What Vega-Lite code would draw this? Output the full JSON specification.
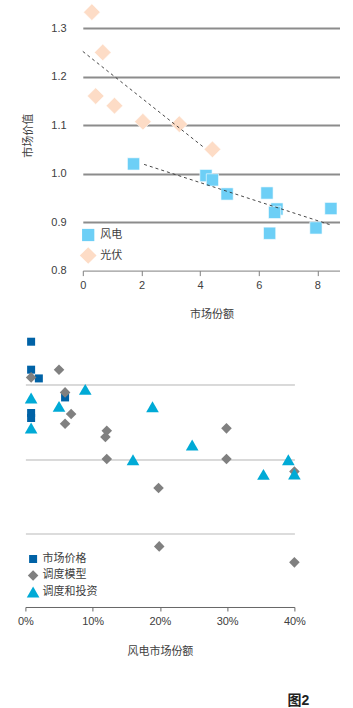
{
  "$schema": "https://vega.github.io/schema/vega-lite/v6.json",
  "padding": {"left": 17.4, "top": 0, "right": 0, "bottom": 0},
  "background": "white",
  "config": {
    "view": {"stroke": null},
    "font": "Liberation Sans, Noto Sans CJK SC",
    "axis": {
      "labelFont": "Liberation Sans, Noto Sans CJK SC",
      "titleFont": "Liberation Sans, Noto Sans CJK SC",
      "labelFontSize": 11,
      "titleFontSize": 11,
      "titleFontWeight": "normal",
      "labelColor": "#404040",
      "titleColor": "#404040"
    },
    "legend": {
      "labelFont": "Liberation Sans, Noto Sans CJK SC",
      "labelFontSize": 11,
      "labelColor": "#404040",
      "padding": 0
    }
  },
  "title": {
    "text": "图2",
    "orient": "bottom",
    "anchor": "end",
    "fontSize": 14,
    "fontWeight": "bold",
    "color": "#222222",
    "font": "Liberation Sans, Noto Sans CJK SC",
    "offset": 37.5,
    "dx": -31
  },
  "spacing": 9.5,
  "resolve": {
    "scale": {"color": "independent", "shape": "independent", "size": "independent"},
    "legend": {"color": "independent", "shape": "independent", "size": "independent"}
  },
  "vconcat": [
    {
      "spacing": -3.6,
      "hconcat": [
        {
          "width": 1,
          "height": 1,
          "data": {"values": []},
          "mark": "point"
        },
        {
          "width": 257.5,
          "height": 270.6,
          "layer": [
            {
              "data": {
                "values": [
                  {"series": "风电", "share": 1.73, "value": 1.020},
                  {"series": "风电", "share": 4.20, "value": 0.996},
                  {"series": "风电", "share": 4.42, "value": 0.987},
                  {"series": "风电", "share": 4.92, "value": 0.958},
                  {"series": "风电", "share": 6.28, "value": 0.960},
                  {"series": "风电", "share": 6.62, "value": 0.927},
                  {"series": "风电", "share": 6.54, "value": 0.920},
                  {"series": "风电", "share": 6.37, "value": 0.877},
                  {"series": "风电", "share": 7.95, "value": 0.888},
                  {"series": "风电", "share": 8.46, "value": 0.928},
                  {"series": "光伏", "share": 0.31, "value": 1.333},
                  {"series": "光伏", "share": 0.68, "value": 1.250},
                  {"series": "光伏", "share": 0.44, "value": 1.160},
                  {"series": "光伏", "share": 1.08, "value": 1.140},
                  {"series": "光伏", "share": 2.05, "value": 1.107},
                  {"series": "光伏", "share": 3.29, "value": 1.102},
                  {"series": "光伏", "share": 4.42, "value": 1.050}
                ]
              },
              "mark": {"type": "point", "filled": true, "opacity": 1, "stroke": "white", "strokeWidth": 0.6},
              "encoding": {
                "x": {
                  "field": "share", "type": "quantitative",
                  "scale": {"domain": [0, 8.78], "nice": false, "zero": false},
                  "axis": {
                    "values": [0, 2, 4, 6, 8], "title": "市场份额", "grid": false, "labelFlush": false,
                    "domainColor": "#808080", "tickColor": "#808080", "tickSize": 5,
                    "labelPadding": 4, "titlePadding": 18
                  }
                },
                "y": {
                  "field": "value", "type": "quantitative",
                  "scale": {"domain": [0.8, 1.358], "nice": false, "zero": false},
                  "axis": {
                    "values": [0.8, 0.9, 1.0, 1.1, 1.2, 1.3], "format": ".1f",
                    "title": "市场价值", "domain": false, "ticks": false, "tickSize": 0,
                    "labelPadding": 16.7, "titlePadding": 17,
                    "grid": true, "gridColor": "#8c8c8c", "gridWidth": 2,
                    "gridOpacity": {"condition": {"test": "datum.value < 0.85", "value": 0}, "value": 1}
                  }
                },
                "shape": {
                  "field": "series", "type": "nominal",
                  "scale": {"domain": ["风电", "光伏"], "range": ["square", "diamond"]},
                  "legend": {"orient": "none", "legendX": 54.3, "legendY": 228.5, "title": null, "symbolSize": 90, "labelOffset": 3.5, "rowPadding": 5.5, "symbolStrokeWidth": 0}
                },
                "color": {
                  "field": "series", "type": "nominal",
                  "scale": {"domain": ["风电", "光伏"], "range": ["#6dcff6", "#fddcc6"]},
                  "legend": {"orient": "none", "legendX": 54.3, "legendY": 228.5, "title": null, "symbolSize": 90, "labelOffset": 3.5, "rowPadding": 5.5, "symbolStrokeWidth": 0}
                },
                "size": {
                  "field": "series", "type": "nominal",
                  "scale": {"domain": ["风电", "光伏"], "range": [150, 280]},
                  "legend": null
                }
              }
            },
            {
              "data": {
                "values": [
                  {"series": "光伏", "share": 0, "value": 1.252},
                  {"series": "光伏", "share": 4.15, "value": 1.053},
                  {"series": "风电", "share": 2.09, "value": 1.019},
                  {"series": "风电", "share": 8.46, "value": 0.894}
                ]
              },
              "mark": {"type": "line", "strokeDash": [3, 3], "strokeWidth": 0.9, "color": "#333333"},
              "encoding": {
                "x": {"field": "share", "type": "quantitative"},
                "y": {"field": "value", "type": "quantitative"},
                "detail": {"field": "series", "type": "nominal"}
              }
            }
          ]
        }
      ]
    },
    {
      "width": 269,
      "height": 277.5,
      "data": {
        "values": [
          {"method": "市场价格", "share": 0.0085, "value": 3.585},
          {"method": "市场价格", "share": 0.0085, "value": 3.207},
          {"method": "市场价格", "share": 0.020, "value": 3.089},
          {"method": "市场价格", "share": 0.059, "value": 2.832},
          {"method": "市场价格", "share": 0.0085, "value": 2.622},
          {"method": "市场价格", "share": 0.0085, "value": 2.554},
          {"method": "调度模型", "share": 0.0085, "value": 3.103},
          {"method": "调度模型", "share": 0.050, "value": 3.207},
          {"method": "调度模型", "share": 0.059, "value": 2.900},
          {"method": "调度模型", "share": 0.068, "value": 2.608},
          {"method": "调度模型", "share": 0.059, "value": 2.477},
          {"method": "调度模型", "share": 0.121, "value": 2.382},
          {"method": "调度模型", "share": 0.119, "value": 2.297},
          {"method": "调度模型", "share": 0.121, "value": 2.000},
          {"method": "调度模型", "share": 0.198, "value": 1.608},
          {"method": "调度模型", "share": 0.299, "value": 2.414},
          {"method": "调度模型", "share": 0.299, "value": 2.000},
          {"method": "调度模型", "share": 0.400, "value": 1.832},
          {"method": "调度模型", "share": 0.199, "value": 0.819},
          {"method": "调度模型", "share": 0.400, "value": 0.603},
          {"method": "调度和投资", "share": 0.0085, "value": 2.824},
          {"method": "调度和投资", "share": 0.050, "value": 2.711},
          {"method": "调度和投资", "share": 0.089, "value": 2.941},
          {"method": "调度和投资", "share": 0.0085, "value": 2.419},
          {"method": "调度和投资", "share": 0.189, "value": 2.707},
          {"method": "调度和投资", "share": 0.160, "value": 1.990},
          {"method": "调度和投资", "share": 0.248, "value": 2.189},
          {"method": "调度和投资", "share": 0.354, "value": 1.792},
          {"method": "调度和投资", "share": 0.391, "value": 1.990},
          {"method": "调度和投资", "share": 0.400, "value": 1.797}
        ]
      },
      "mark": {"type": "point", "filled": true, "opacity": 1},
      "encoding": {
        "x": {
          "field": "share", "type": "quantitative",
          "scale": {"domain": [0, 0.4], "nice": false, "zero": false},
          "axis": {
            "values": [0, 0.1, 0.2, 0.3, 0.4], "format": ".0%", "title": "风电市场份额", "grid": false, "labelFlush": false,
            "domainColor": "#666666", "tickColor": "#666666", "tickSize": 4,
            "labelPadding": 5, "titlePadding": 19
          }
        },
        "y": {
          "field": "value", "type": "quantitative",
          "scale": {"domain": [0, 3.75], "nice": false, "zero": false},
          "axis": {
            "values": [1, 2, 3], "title": null, "labels": false, "ticks": false, "domain": false,
            "grid": true,
            "gridColor": {"condition": {"test": "datum.value === 1", "value": "#dcdcdc"}, "value": "#b4b4b4"},
            "gridWidth": {"condition": {"test": "datum.value === 1", "value": 2}, "value": 1}
          }
        },
        "shape": {
          "field": "method", "type": "nominal",
          "scale": {"domain": ["市场价格", "调度模型", "调度和投资"], "range": ["square", "diamond", "triangle-up"]},
          "legend": {"orient": "none", "legendX": 1.2, "legendY": 224, "title": null, "symbolSize": 40, "labelOffset": 3, "rowPadding": 4.5, "symbolStrokeWidth": 0}
        },
        "color": {
          "field": "method", "type": "nominal",
          "scale": {"domain": ["市场价格", "调度模型", "调度和投资"], "range": ["#0062a6", "#808080", "#00aad6"]},
          "legend": {"orient": "none", "legendX": 1.2, "legendY": 224, "title": null, "symbolSize": 40, "labelOffset": 3, "rowPadding": 4.5, "symbolStrokeWidth": 0}
        },
        "size": {
          "field": "method", "type": "nominal",
          "scale": {"domain": ["市场价格", "调度模型", "调度和投资"], "range": [64, 160, 205]},
          "legend": null
        }
      }
    }
  ]
}
